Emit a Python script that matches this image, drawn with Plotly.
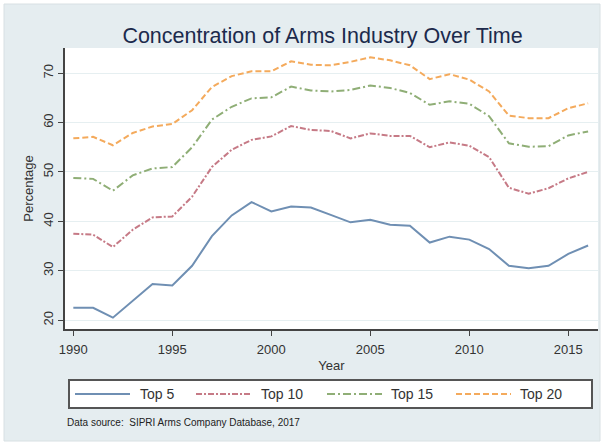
import plotly.graph_objects as go

years = list(range(1990, 2017))
top5 = [22.5, 22.5, 20.5, 24.0, 27.3, 27.0, 31.0, 37.0, 41.2, 43.9, 42.0, 43.0, 42.8, 41.3,
        39.8, 40.3, 39.3, 39.1, 35.7, 36.9, 36.3, 34.4, 31.0, 30.5, 31.0, 33.4, 35.1]
top10 = [37.5, 37.3, 34.8, 38.3, 40.8, 41.0, 45.0, 51.0, 54.5, 56.5, 57.2, 59.3, 58.5, 58.3,
         56.8, 57.8, 57.3, 57.3, 55.0, 56.0, 55.3, 53.0, 46.8, 45.6, 46.7, 48.7, 50.0]
top15 = [48.8, 48.6, 46.2, 49.3, 50.7, 51.0, 55.0, 60.6, 63.2, 64.9, 65.1, 67.3, 66.5, 66.3,
         66.6, 67.5, 67.0, 66.0, 63.6, 64.3, 63.8, 61.3, 55.8, 55.1, 55.2, 57.4, 58.2]
top20 = [56.8, 57.1, 55.4, 57.9, 59.2, 59.7, 62.5, 67.2, 69.4, 70.4, 70.4, 72.4, 71.7, 71.6,
         72.3, 73.2, 72.6, 71.6, 68.8, 69.8, 68.7, 66.3, 61.4, 60.9, 60.9, 62.9, 63.9]
series_names = ["Top 5", "Top 10", "Top 15", "Top 20"]
xticks = [1990, 1995, 2000, 2005, 2010, 2015]
yticks = [20, 30, 40, 50, 60, 70]

colors = ["#6f8fb3", "#c67a86", "#8fae76", "#f4aa5c"]
dashes = ["solid", "6px,2px,2px,2px", "8px,3px,2px,3px", "6px,3px"]

W, H = 604, 446
L, R, T, B = 65, 6, 48, 117
pw, ph = W - L - R, H - T - B

def px(x):
    return (x - L) / pw

def py(y):
    return (H - B - y) / ph

FONT = "Liberation Sans, Arial, sans-serif"

fig = go.Figure()
for name, vals, c, d in zip(series_names, [top5, top10, top15, top20], colors, dashes):
    fig.add_trace(go.Scatter(x=years, y=vals, mode="lines", name=name,
                             line=dict(color=c, width=2, dash=d)))

shapes = [
    dict(type="rect", xref="paper", yref="paper", x0=px(4), x1=px(600), y0=py(441), y1=py(4),
         fillcolor="#e5edf0", line=dict(color="#d8e0e3", width=1), layer="below"),
    dict(type="rect", xref="paper", yref="paper", x0=0, x1=1, y0=0, y1=1,
         fillcolor="white", line=dict(width=0), layer="below"),
    # legend box
    dict(type="rect", xref="paper", yref="paper", x0=px(69), x1=px(592), y0=py(408), y1=py(380),
         fillcolor="white", line=dict(color="#555555", width=2)),
]
annotations = [
    dict(text="Data source:  SIPRI Arms Company Database, 2017", xref="paper", yref="paper",
         x=px(65), y=py(422), xanchor="left", yanchor="middle", showarrow=False,
         font=dict(size=10, color="#222", family=FONT)),
]
key_x = [(75, 130, 138), (196, 251, 259), (327, 382, 389), (456, 511, 518)]
ly = 394
for name, c, d, (x0, x1, tx) in zip(series_names, colors, dashes, key_x):
    shapes.append(dict(type="line", xref="paper", yref="paper", x0=px(x0), x1=px(x1),
                       y0=py(ly), y1=py(ly), line=dict(color=c, width=2, dash=d)))
    annotations.append(dict(text=name, xref="paper", yref="paper", x=px(tx), y=py(ly),
                            xanchor="left", yanchor="middle", showarrow=False,
                            font=dict(size=14, color="#333", family=FONT)))

fig.update_layout(
    width=W, height=H,
    margin=dict(l=L, r=R, t=T, b=B),
    paper_bgcolor="white",
    plot_bgcolor="rgba(0,0,0,0)",
    showlegend=False,
    font=dict(family=FONT, color="#333333"),
    title=dict(text="Concentration of Arms Industry Over Time", x=0.534, xanchor="center",
               y=1 - 35 / H, yanchor="middle",
               font=dict(size=21.5, color="#1c2a4c", family=FONT)),
    xaxis=dict(range=[1989.58, 2016.5], tickvals=xticks, ticks="outside", ticklen=5,
               tickcolor="#444", showline=True, linecolor="#444", linewidth=1.5,
               showgrid=False, zeroline=False, tickfont=dict(size=13, color="#333"),
               ticklabelstandoff=3,
               title=dict(text="Year", font=dict(size=13, color="#333"), standoff=5)),
    yaxis=dict(range=[18.2, 75.1], tickvals=yticks, ticks="outside", ticklen=5,
               tickcolor="#444", showline=True, linecolor="#444", linewidth=1.5,
               showgrid=True, gridcolor="#e6eff1", gridwidth=1, zeroline=False,
               tickangle=-90, tickfont=dict(size=13, color="#333"),
               title=dict(text="Percentage", font=dict(size=13, color="#333"), standoff=4)),
    shapes=shapes,
    annotations=annotations,
)

fig.write_html("out.html", config={"displayModeBar": False})

# remove the browser's default page margin so the figure sits at the window origin
with open("out.html", "r", encoding="utf-8") as f:
    html = f.read()
html = html.replace("<head>", "<head><style>html,body{margin:0;padding:0;overflow:hidden;}</style>", 1)
with open("out.html", "w", encoding="utf-8") as f:
    f.write(html)
